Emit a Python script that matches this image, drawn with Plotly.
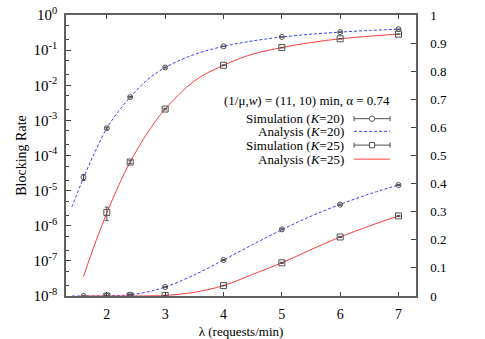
import plotly.graph_objects as go

# -----------------------------
# Data
# -----------------------------
lam_sim = [1.6, 2.0, 2.4, 3.0, 4.0, 5.0, 6.0, 7.0]
sim_k20 = [2.4e-5, 6.0e-4, 4.6e-3, 0.032, 0.128, 0.237, 0.325, 0.395]
err_k20 = [0.45e-5, 0.4e-4, 0.2e-3, 0.001, 0.002, 0.002, 0.002, 0.002]

lam_sim25 = [2.0, 2.4, 3.0, 4.0, 5.0, 6.0, 7.0]
sim_k25 = [2.4e-6, 6.5e-5, 2.1e-3, 0.037, 0.118, 0.21, 0.285]
err_k25 = [1.0e-6, 0.6e-5, 0.1e-3, 0.001, 0.002, 0.002, 0.002]

lam_ana20 = [1.4, 1.6, 1.8, 2.0, 2.2, 2.4, 2.7, 3.0, 3.5, 4.0, 4.5, 5.0, 5.5, 6.0, 6.5, 7.0]
ana_k20 = [3.4e-6, 2.3e-5, 1.3e-4, 6.0e-4, 1.8e-3, 4.6e-3, 0.0145, 0.032, 0.075,
           0.128, 0.183, 0.236, 0.284, 0.326, 0.363, 0.395]

lam_ana25 = [1.6, 1.8, 2.0, 2.2, 2.4, 2.7, 3.0, 3.5, 4.0, 4.5, 5.0, 5.5, 6.0, 6.5, 7.0]
ana_k25 = [3.6e-8, 3.2e-7, 2.3e-6, 1.38e-5, 6.5e-5, 4.5e-4, 2.1e-3, 0.0132, 0.037,
           0.077, 0.118, 0.165, 0.21, 0.249, 0.285]

log_tickvals = [1e-8, 1e-7, 1e-6, 1e-5, 1e-4, 1e-3, 1e-2, 1e-1, 1]
log_ticktext = ["10<sup>-8</sup>", "10<sup>-7</sup>", "10<sup>-6</sup>", "10<sup>-5</sup>",
                "10<sup>-4</sup>", "10<sup>-3</sup>", "10<sup>-2</sup>", "10<sup>-1</sup>",
                "10<sup>0</sup>"]
lin_tickvals = [0, 0.1, 0.2, 0.3, 0.4, 0.5, 0.6, 0.7, 0.8, 0.9, 1]
lin_ticktext = ["0", "0.1", "0.2", "0.3", "0.4", "0.5", "0.6", "0.7", "0.8", "0.9", "1"]

BLUE = "#3c3cff"
RED = "#ff3c3c"
MARK = "#505050"
FONT = "Liberation Serif, serif"
TXT = dict(family=FONT, size=13, color="black")

fig = go.Figure()

# analysis curves, log axis (left) and linear axis (right)
for yax in ["y", "y2"]:
    fig.add_trace(go.Scatter(
        x=lam_ana20, y=ana_k20, yaxis=yax, mode="lines", line_shape="spline",
        line=dict(color=BLUE, width=1, dash="3px,2px"), showlegend=False,
    ))
    fig.add_trace(go.Scatter(
        x=lam_ana25, y=ana_k25, yaxis=yax, mode="lines", line_shape="spline",
        line=dict(color=RED, width=1), showlegend=False,
    ))
    fig.add_trace(go.Scatter(
        x=lam_sim, y=sim_k20, yaxis=yax, mode="markers",
        marker=dict(symbol="circle-open", size=5, color=MARK, line=dict(width=1)),
        error_y=dict(type="data", array=err_k20, color=MARK, thickness=1, width=2),
        showlegend=False,
    ))
    fig.add_trace(go.Scatter(
        x=lam_sim25, y=sim_k25, yaxis=yax, mode="markers",
        marker=dict(symbol="square-open", size=6, color=MARK, line=dict(width=1)),
        error_y=dict(type="data", array=err_k25, color=MARK, thickness=1, width=2),
        showlegend=False,
    ))

# -----------------------------
# Key (gnuplot style: text left, sample right)
# -----------------------------
fig.add_annotation(
    x=0.931, y=0.696, xref="paper", yref="paper", xanchor="right", yanchor="middle",
    showarrow=False, text="(1/μ,<i>w</i>) = (11, 10) min, α = 0.74", font=TXT,
)
key_labels = ["Simulation (<i>K</i>=20)", "Analysis (<i>K</i>=20)",
              "Simulation (<i>K</i>=25)", "Analysis (<i>K</i>=25)"]
key_y = [0.631, 0.586, 0.537, 0.487]
x0, x1, xm = 0.823, 0.926, 0.8745
for lab, ky in zip(key_labels, key_y):
    fig.add_annotation(
        x=0.799, y=ky, xref="paper", yref="paper", xanchor="right", yanchor="middle",
        showarrow=False, text=lab, font=TXT,
    )

# samples for the simulation entries
for i, sym in [(0, "circle"), (2, "rect")]:
    ky = key_y[i]
    fig.add_shape(type="line", xref="paper", yref="paper", x0=x0, x1=x1, y0=ky, y1=ky,
                  line=dict(color=MARK, width=1))
    for xe in (x0, x1):
        fig.add_shape(type="line", xref="paper", yref="paper", x0=xe, x1=xe,
                      y0=ky - 0.009, y1=ky + 0.009, line=dict(color=MARK, width=1))
    fig.add_shape(type=sym, xref="paper", yref="paper",
                  x0=xm - 0.0075, x1=xm + 0.0075, y0=ky - 0.0095, y1=ky + 0.0095,
                  line=dict(color=MARK, width=1), fillcolor="white")
fig.add_shape(type="line", xref="paper", yref="paper", x0=x0, x1=x1,
              y0=key_y[1], y1=key_y[1], line=dict(color=BLUE, width=1, dash="3px,2px"))
fig.add_shape(type="line", xref="paper", yref="paper", x0=x0, x1=x1,
              y0=key_y[3], y1=key_y[3], line=dict(color=RED, width=1))

# -----------------------------
# Layout
# -----------------------------
fig.update_layout(
    width=485,
    height=339,
    margin=dict(l=66, r=69, t=15, b=43, autoexpand=False),
    plot_bgcolor="white",
    paper_bgcolor="white",
    font=TXT,
    showlegend=False,
    xaxis=dict(
        range=[1.3, 7.3], tickvals=[2, 3, 4, 5, 6, 7], ticks="inside", ticklen=4,
        mirror="ticks", showline=True, linecolor="#606060", linewidth=1.5,
        tickcolor="#404040", showgrid=False, zeroline=False, automargin=False,
        tickfont=dict(family=FONT, size=14, color="black"),
        title=dict(text="λ (requests/min)", standoff=6, font=TXT), ticklabelstandoff=4,
    ),
    yaxis=dict(
        type="log", range=[-8, 0], tickvals=log_tickvals, ticktext=log_ticktext,
        ticks="inside", ticklen=5, tickcolor="#404040", showline=True,
        linecolor="#606060", linewidth=1.5, showgrid=False, zeroline=False,
        automargin=False, tickfont=dict(family=FONT, size=15, color="black"),
        minor=dict(ticks="inside", ticklen=3, dtick="D2", tickcolor="#404040",
                   showgrid=False),
        title=dict(text="Blocking Rate", standoff=4, font=dict(family=FONT, size=14)),
        ticklabelstandoff=4,
    ),
    yaxis2=dict(
        overlaying="y", side="right", range=[0, 1], tickvals=lin_tickvals,
        ticktext=lin_ticktext, ticks="inside", ticklen=5, tickcolor="#404040",
        showline=True, linecolor="#606060", linewidth=1.5, showgrid=False,
        zeroline=False, automargin=False, ticklabelstandoff=10,
        tickfont=dict(family=FONT, size=13, color="black"),
    ),
)

# the page's default body margin would shift the figure by 8px
fig.write_html(
    "out.html",
    config={"displayModeBar": False},
    post_script="document.body.style.margin='0';",
)
